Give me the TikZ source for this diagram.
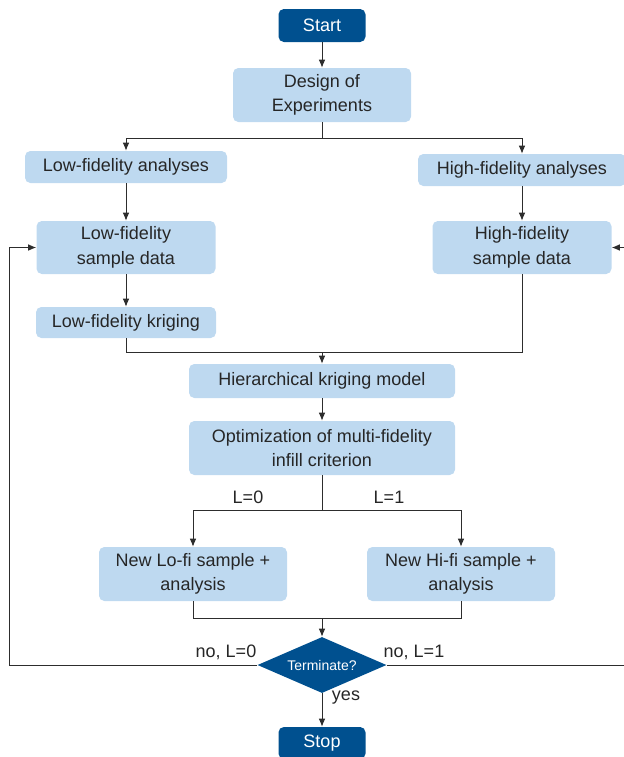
\documentclass[tikz,border=0pt]{standalone}
\usepackage{fontspec}
\setmainfont{Liberation Sans}
\usetikzlibrary{shapes.geometric,arrows.meta}
\definecolor{boxblue}{RGB}{190,217,240}
\definecolor{darkblue}{RGB}{0,80,143}
\definecolor{linegray}{RGB}{45,45,45}

\begin{document}
\begin{tikzpicture}[x=0.75pt,y=-0.75pt,
  box/.style={rectangle, rounded corners=4pt, fill=boxblue, text=black!85,
    align=center, inner sep=0pt, font=\fontsize{13.5}{18.5}\selectfont},
  endbox/.style={box, fill=darkblue, text=white},
  decision/.style={diamond, fill=darkblue, text=white, inner sep=0pt,
    font=\fontsize{10.5}{12}\selectfont},
  lab/.style={inner sep=0pt, text=black!85, font=\fontsize{13.5}{16}\selectfont},
  line/.style={draw=linegray, line width=0.75pt},
  arr/.style={line, -{Latex[length=6pt,width=5pt]}}]
\useasboundingbox (0,0) rectangle (624,757);

% boxes
\node[endbox, minimum width=65.25pt, minimum height=24.75pt] (start) at (322,25.5) {Start};
\node[box, minimum width=133.5pt, minimum height=40.5pt] (doe) at (322,95) {Design of\\Experiments};
\node[box, minimum width=151.5pt, minimum height=24pt] (lofa) at (126,167) {Low-fidelity analyses};
\node[box, minimum width=156pt, minimum height=24pt] (hifa) at (522,170) {High-fidelity analyses};
\node[box, minimum width=134.25pt, minimum height=39.75pt] (losd) at (126,247.5) {Low-fidelity\\sample data};
\node[box, minimum width=134.25pt, minimum height=39.75pt] (hisd) at (522,247.5) {High-fidelity\\sample data};
\node[box, minimum width=135pt, minimum height=23.25pt] (lokr) at (126,322.5) {Low-fidelity kriging};
\node[box, minimum width=199.5pt, minimum height=25.5pt] (hk) at (322,381) {Hierarchical kriging model};
\node[box, minimum width=199.5pt, minimum height=40.5pt] (opt) at (322,448) {Optimization of multi-fidelity\\infill criterion};
\node[box, minimum width=141pt, minimum height=40.5pt] (newlo) at (193,574) {New Lo-fi sample +\\analysis};
\node[box, minimum width=141pt, minimum height=40.5pt] (newhi) at (461,574) {New Hi-fi sample +\\analysis};
\node[decision, minimum width=96.75pt, minimum height=42pt, aspect=2.3] (term) at (322,665) {Terminate?};
\node[endbox, minimum width=65.25pt, minimum height=24pt] (stop) at (322,743) {Stop};

% labels
\node[lab] (l0) at (248,497) {L=0};
\node[lab] (l1) at (389,497) {L=1};
\node[lab] (nol0) at (226,652) {no, L=0};
\node[lab] (nol1) at (414,652) {no, L=1};
\node[lab] (yes) at (346,698) {yes};

% junctions
\coordinate (split1) at (322,138);
\coordinate (join1) at (322,352);
\coordinate (split2) at (322,510);
\coordinate (join2) at (322,618);
\coordinate (loopL) at (9,665);
\coordinate (loopR) at (634,665);

% connectors
\draw[arr] (start) -- (doe);
\draw[line] (doe) -- (split1);
\draw[arr] (split1) -| (lofa);
\draw[arr] (split1) -| (hifa);
\draw[arr] (lofa) -- (losd);
\draw[arr] (hifa) -- (hisd);
\draw[arr] (losd) -- (lokr);
\draw[line] (lokr) |- (join1);
\draw[line] (hisd) |- (join1);
\draw[arr] (join1) -- (hk);
\draw[arr] (hk) -- (opt);
\draw[line] (opt) -- (split2);
\draw[arr] (split2) -| (newlo);
\draw[arr] (split2) -| (newhi);
\draw[line] (newlo) |- (join2);
\draw[line] (newhi) |- (join2);
\draw[arr] (join2) -- (term);
\draw[arr] (term) -- (stop);
\draw[arr] (term.west) -- (loopL) |- (losd.west);
\draw[arr] (term.east) -- (loopR) |- (hisd.east);
\end{tikzpicture}
\end{document}
